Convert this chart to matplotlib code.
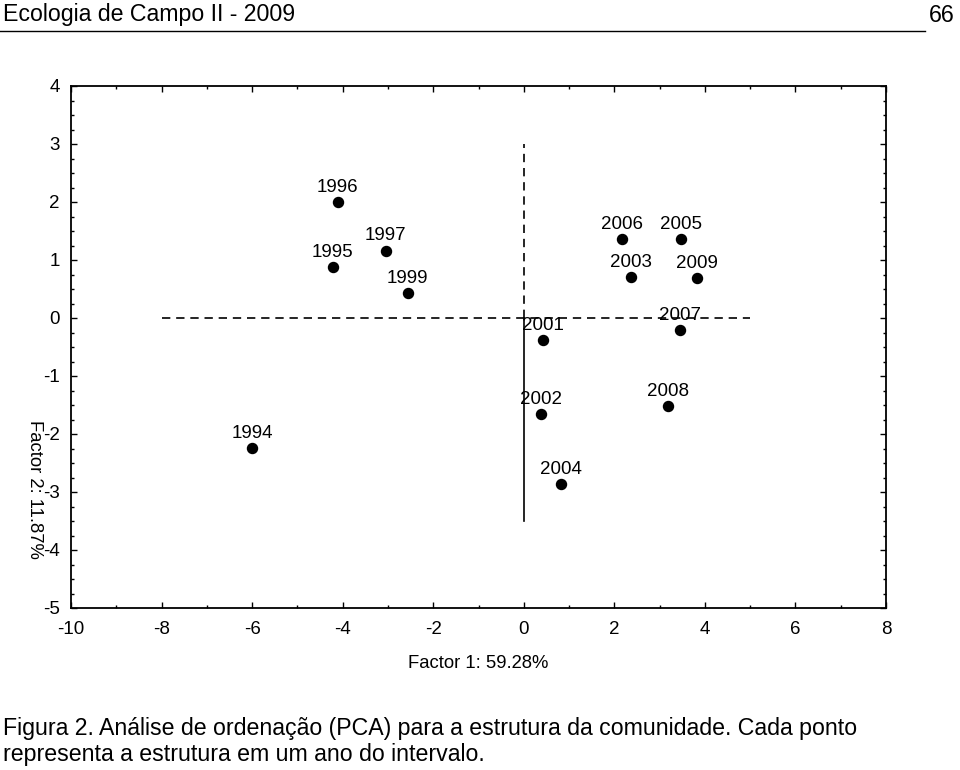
import matplotlib
matplotlib.use("Agg")
import matplotlib.pyplot as plt
from matplotlib.ticker import MultipleLocator

plt.rcParams['font.family'] = ['Liberation Sans', 'DejaVu Sans']
plt.rcParams['axes.unicode_minus'] = False

# PCA scores per year
years = ["1994", "1995", "1996", "1997", "1999", "2001", "2002", "2003",
         "2004", "2005", "2006", "2007", "2008", "2009"]
factor1 = [-6.00, -4.22, -4.11, -3.05, -2.56, 0.42, 0.38, 2.36,
           0.82, 3.47, 2.16, 3.44, 3.18, 3.82]
factor2 = [-2.24, 0.88, 2.00, 1.16, 0.43, -0.38, -1.66, 0.71,
           -2.86, 1.36, 1.36, -0.21, -1.52, 0.69]

xlabel = "Factor 1: 59.28%"
ylabel = "Factor 2: 11.87%"

fig = plt.figure(figsize=(9.6, 7.7), dpi=100)
ax = fig.add_axes([71/960, 1-608/770, (886-71)/960, (608-86)/770])

# reference axes through the origin
ax.plot([-8, 5], [0, 0], color="black", lw=1.2, ls=(0, (5, 3.5)))
ax.plot([0, 0], [0, 3], color="black", lw=1.2, ls=(0, (5, 3.5)))
ax.plot([0, 0], [-3.5, 0], color="black", lw=1.2)

ax.scatter(factor1, factor2, s=52, color="black", zorder=3)
for yr, x, y in zip(years, factor1, factor2):
    ax.annotate(yr, (x, y), xytext=(0, 4.5), textcoords="offset points",
                ha="center", va="bottom", fontsize=13.5)

ax.set_xlim(-10, 8)
ax.set_ylim(-5, 4)
ax.xaxis.set_major_locator(MultipleLocator(2))
ax.xaxis.set_minor_locator(MultipleLocator(1))
ax.yaxis.set_major_locator(MultipleLocator(1))
ax.yaxis.set_minor_locator(MultipleLocator(0.25))
ax.tick_params(which="both", direction="in", top=True, right=True,
               labelsize=13.5, width=1)
ax.tick_params(which="major", length=4)
ax.tick_params(which="minor", length=2.5)
ax.tick_params(axis="x", pad=9)
ax.tick_params(axis="y", pad=8)
for s in ax.spines.values():
    s.set_linewidth(1.3)

fig.text(478/960, 1-664/770, xlabel, ha="center", va="center", fontsize=13.3)
fig.text(34/960, 1-489/770, ylabel, ha="center", va="center",
         rotation=270, fontsize=13.3)

# page header and caption
fig.text(3/960, 1-14/770, "Ecologia de Campo II - 2009", ha="left",
         va="center", fontsize=16.7)
fig.text(955/960, 1-15/770, "66", ha="right", va="center", fontsize=16.7)
fig.add_artist(plt.Line2D([0, 925/960], [1-31/770, 1-31/770],
                          color="black", lw=1))
fig.text(3/960, 1-728/770,
         "Figura 2. Análise de ordenação (PCA) para a estrutura da comunidade. Cada ponto",
         ha="left", va="center", fontsize=16.7)
fig.text(3/960, 1-754/770, "representa a estrutura em um ano do intervalo.",
         ha="left", va="center", fontsize=16.7)

fig.savefig("out.png", dpi=100)
